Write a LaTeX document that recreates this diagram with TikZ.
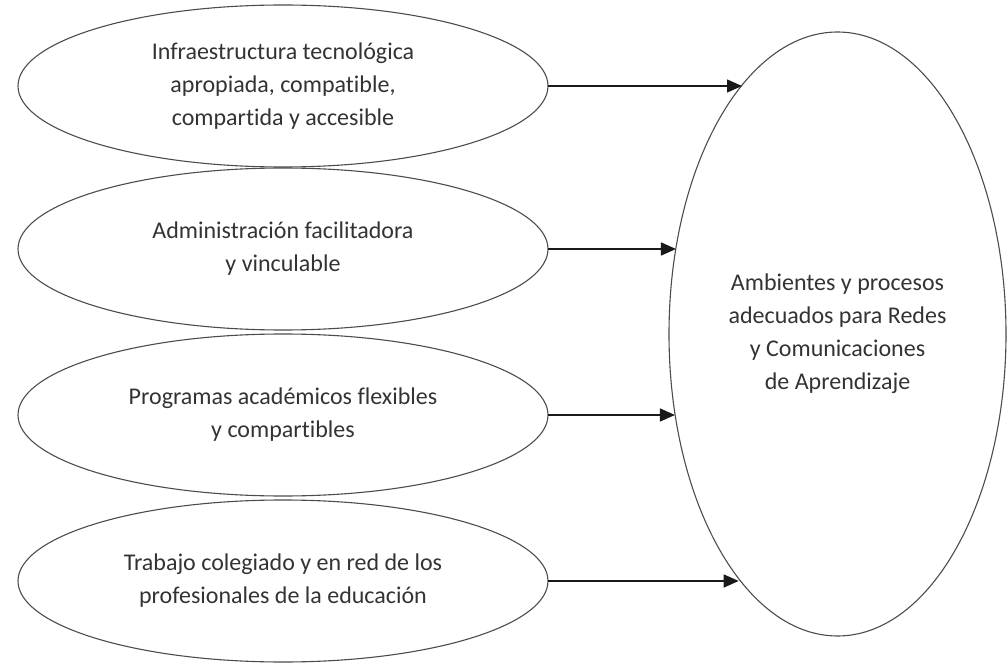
\documentclass[tikz,border=0pt]{standalone}
\usepackage{fontspec}
\setmainfont{Carlito}[Ligatures={NoCommon}]
\usetikzlibrary{arrows.meta,shapes.geometric}
\begin{document}
\begin{tikzpicture}[x=1pt,y=-1pt,
  oval/.style={ellipse,draw=black!70,line width=1.1pt,inner sep=0pt,outer sep=0pt,
    minimum width=530pt,minimum height=162pt,align=center,text=black!80,
    font=\fontsize{24pt}{33pt}\selectfont},
  bigoval/.style={ellipse,draw=black!70,line width=1.1pt,inner sep=0pt,outer sep=0pt,
    minimum width=337pt,minimum height=604pt,align=center,text=black!80,
    font=\fontsize{24pt}{33pt}\selectfont},
  arr/.style={-{Triangle[length=15pt,width=13pt]},line width=1.4pt,draw=black!90}]
\useasboundingbox (0,0) rectangle (1007,663);
\node[oval] (e1) at (283,86) {Infraestructura tecnológica\\apropiada, compatible,\\compartida y accesible};
\node[oval] (e2) at (283,249) {Administración facilitadora\\y vinculable};
\node[oval] (e3) at (283,415) {Programas académicos flexibles\\y compartibles};
\node[oval] (e4) at (283,581) {Trabajo colegiado y en red de los\\profesionales de la educación};
\node[bigoval] (big) at (837.5,334) {Ambientes y procesos\\adecuados para Redes\\y Comunicaciones\\de Aprendizaje};
\draw[arr] (e1.east) -- (e1.east -| big.111.18);
\draw[arr] (e2.east) -- (e2.east -| big.152.27);
\draw[arr] (e3.east) -- (e3.east -| big.206.52);
\draw[arr] (e4.east) -- (e4.east -| big.248.57);
\end{tikzpicture}
\end{document}
